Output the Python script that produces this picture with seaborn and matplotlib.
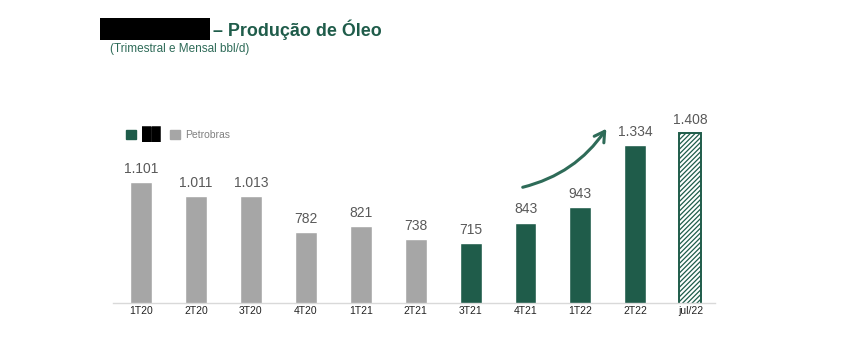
import matplotlib
matplotlib.use("Agg")
import matplotlib.pyplot as plt
import seaborn as sns
import pandas as pd
from matplotlib.patches import Rectangle, Patch

categories = ["1T20", "2T20", "3T20", "4T20", "1T21", "2T21", "3T21", "4T21", "1T22", "2T22", "jul/22"]
values = [1101, 1011, 1013, 782, 821, 738, 715, 843, 943, 1334, 1408]
labels = ["1.101", "1.011", "1.013", "782", "821", "738", "715", "843", "943", "1.334", "1.408"]
owner = ["Petrobras"] * 6 + ["Empresa"] * 5

GREEN = "#1f5c4a"
GREY = "#a6a6a6"

sns.set_theme(style="white")
plt.rcParams["font.family"] = ["Liberation Sans", "DejaVu Sans"]
plt.rcParams["hatch.linewidth"] = 0.9

df = pd.DataFrame({"cat": categories, "val": values, "owner": owner})
colors = [GREY if o == "Petrobras" else GREEN for o in owner]

fig = plt.figure(figsize=(8.62, 3.6), dpi=100)
ax = fig.add_axes([113/862, 57/360, 602/862, 202/360])

sns.barplot(data=df, x="cat", y="val", hue="cat", palette=colors, legend=False,
            width=0.40, ax=ax, saturation=1)

# hatched last bar
last = ax.patches[-1]
last.set_facecolor("white")
last.set_edgecolor(GREEN)
last.set_hatch("///////")
last.set_linewidth(1.4)

for i, (v, t) in enumerate(zip(values, labels)):
    ax.text(i, v + 40, t, ha="center", va="bottom", fontsize=10, color="#595959")

ax.set_ylim(335, 1613)
ax.set_xlim(-0.51, 10.45)
ax.set_xlabel("")
ax.set_ylabel("")
ax.set_yticks([])
for s in ["top", "right", "left"]:
    ax.spines[s].set_visible(False)
ax.spines["bottom"].set_color("#d9d9d9")
ax.spines["bottom"].set_linewidth(1)
ax.tick_params(axis="x", length=0, pad=2, labelsize=7.5, colors="#222222")

# curved arrow
ax.annotate("", xy=(8.5, 1452), xytext=(6.9, 1063),
            arrowprops=dict(arrowstyle="->,head_length=0.6,head_width=0.35",
                            color="#2e6b58", lw=2.2,
                            connectionstyle="arc3,rad=0.2"))

# legend
handles = [Patch(facecolor=GREEN, edgecolor=GREEN), Patch(facecolor=GREY, edgecolor=GREY)]
leg = ax.legend(handles, ["\u2588\u2588", "Petrobras"], loc="center left",
                bbox_to_anchor=(0.018, 0.835), ncol=2, frameon=False, fontsize=7.5,
                handlelength=1.0, handleheight=1.0, handletextpad=0.5, columnspacing=0.9,
                borderaxespad=0.0, borderpad=0.2)
leg.get_texts()[0].set_color("black")
leg.get_texts()[0].set_fontsize(9.5)
leg.get_texts()[1].set_color("#808080")

# title with redaction block
fig.patches.append(Rectangle((100/862, 1 - 40/360), 110/862, 22/360,
                             transform=fig.transFigure, facecolor="black", edgecolor="none"))
fig.text(213/862, 1 - 30/360, "\u2013 Produção de Óleo", fontsize=12.9, fontweight="bold",
         color="#1f5c4a", va="center", ha="left")
fig.text(110/862, 1 - 49/360, "(Trimestral e Mensal bbl/d)", fontsize=8.5,
         color="#2e6b58", va="center", ha="left")

fig.savefig("out.png", dpi=100)
